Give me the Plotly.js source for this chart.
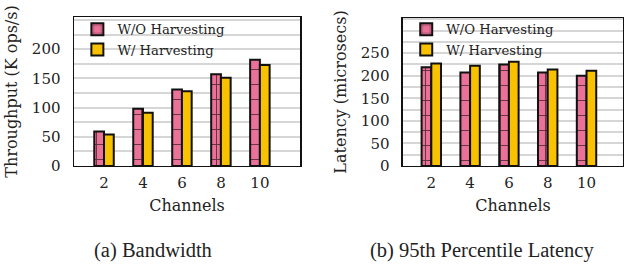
<!DOCTYPE html>
<html><head><meta charset="utf-8">
<script src="https://cdn.plot.ly/plotly-3.0.1.min.js"></script>
<style>html,body{margin:0;padding:0;background:#fff}#chart{width:624px;height:273px}</style>
</head><body><div id="chart"></div>
<script>
const channels = ['2','4','6','8','10'];
const seriesNames = ['W/O Harvesting','W/ Harvesting'];
const throughputWithout = [59, 98, 131, 157, 182];
const throughputWith = [54, 91, 128, 151, 173];
const latencyWithout = [219, 207, 225, 207, 200];
const latencyWith = [227, 222, 231, 214, 211];
const throughputTicks = [0, 50, 100, 150, 200];
const latencyTicks = [0, 50, 100, 150, 200, 250];
const pink = '#ea7298';
const yellow = '#f9c200';
const serif = '"DejaVu Serif"';
const captionFont = '"Liberation Serif"';

function bar(y, name, color, xa, ya, leg, hatch){
  const m = {color: color, line:{color:'#111', width:2}};
  if (hatch) m.pattern = {shape:'+', size:15, solidity:0.12, fgcolor:'#4a1f2c', fgopacity:0.85, fillmode:'overlay'};
  return {type:'bar', x: channels, y: y, name: name, marker: m, xaxis: xa, yaxis: ya, legend: leg, showlegend: true};
}
const data = [
  bar(throughputWithout, seriesNames[0], pink, 'x', 'y', 'legend', true),
  bar(throughputWith, seriesNames[1], yellow, 'x', 'y', 'legend', false),
  bar(latencyWithout, seriesNames[0], pink, 'x2', 'y2', 'legend2', true),
  bar(latencyWith, seriesNames[1], yellow, 'x2', 'y2', 'legend2', false)
];
const tickFont = {family: serif, size: 15, color:'#222'};
const titleFont = {family: serif, size: 16, color:'#222'};
function xax(domain, range, anchor){
  return {domain: domain, range: range, anchor: anchor, type:'category', showline:true, mirror:true, linecolor:'#111', linewidth:1.5,
    showgrid:false, ticks:'', tickfont: tickFont, ticklabelstandoff: 3,
    title:{text:'Channels', font: titleFont, standoff: 8}};
}
function yax(domain, range, anchor, title, tv){
  return {domain: domain, range: range, anchor: anchor, showline:true, mirror:true, linecolor:'#111', linewidth:1.5,
    tickmode:'array', tickvals: tv, zeroline:false, showgrid:true, gridcolor:'#d6d6d6', gridwidth:2,
    minor:{dtick:25, tick0:0, showgrid:true, gridcolor:'#d6d6d6', gridwidth:2},
    ticks:'', tickfont: tickFont, ticklabelstandoff: 9,
    title:{text: title, font: titleFont, standoff: 10}};
}
const legendBase = {font:{family: serif, size:13.2, color:'#222'}, bgcolor:'rgba(0,0,0,0)', borderwidth:0,
  xanchor:'left', yanchor:'top', tracegroupgap:0, itemwidth:30};
const layout = {
  width:624, height:273, margin:{l:0,r:0,t:0,b:0}, paper_bgcolor:'#fff', plot_bgcolor:'#fff',
  font:{family: serif},
  barmode:'group', bargap:0.5, bargroupgap:0,
  xaxis: xax([0.1186, 0.4808], [-0.77, 5.03], 'y'),
  yaxis: yax([0.392, 0.9377], [0, 255], 'x', 'Throughput (K ops/s)', throughputTicks),
  xaxis2: xax([0.6458, 0.9984], [-0.73, 4.94], 'y2'),
  yaxis2: yax([0.392, 0.934], [0, 328], 'x2', 'Latency (microsecs)', latencyTicks),
  legend: Object.assign({x:0.124, y:0.948}, legendBase),
  legend2: Object.assign({x:0.651, y:0.948}, legendBase),
  annotations:[
    {text:'(a) Bandwidth', xref:'paper', yref:'paper', x:0.245, y:0.083, xanchor:'center', yanchor:'middle', showarrow:false,
     font:{family: captionFont, size:20.5, color:'#222'}},
    {text:'(b) 95th Percentile Latency', xref:'paper', yref:'paper', x:0.773, y:0.083, xanchor:'center', yanchor:'middle', showarrow:false,
     font:{family: captionFont, size:20.5, color:'#222'}}
  ]
};
Plotly.newPlot('chart', data, layout, {displayModeBar:false, staticPlot:true});
</script></body></html>
